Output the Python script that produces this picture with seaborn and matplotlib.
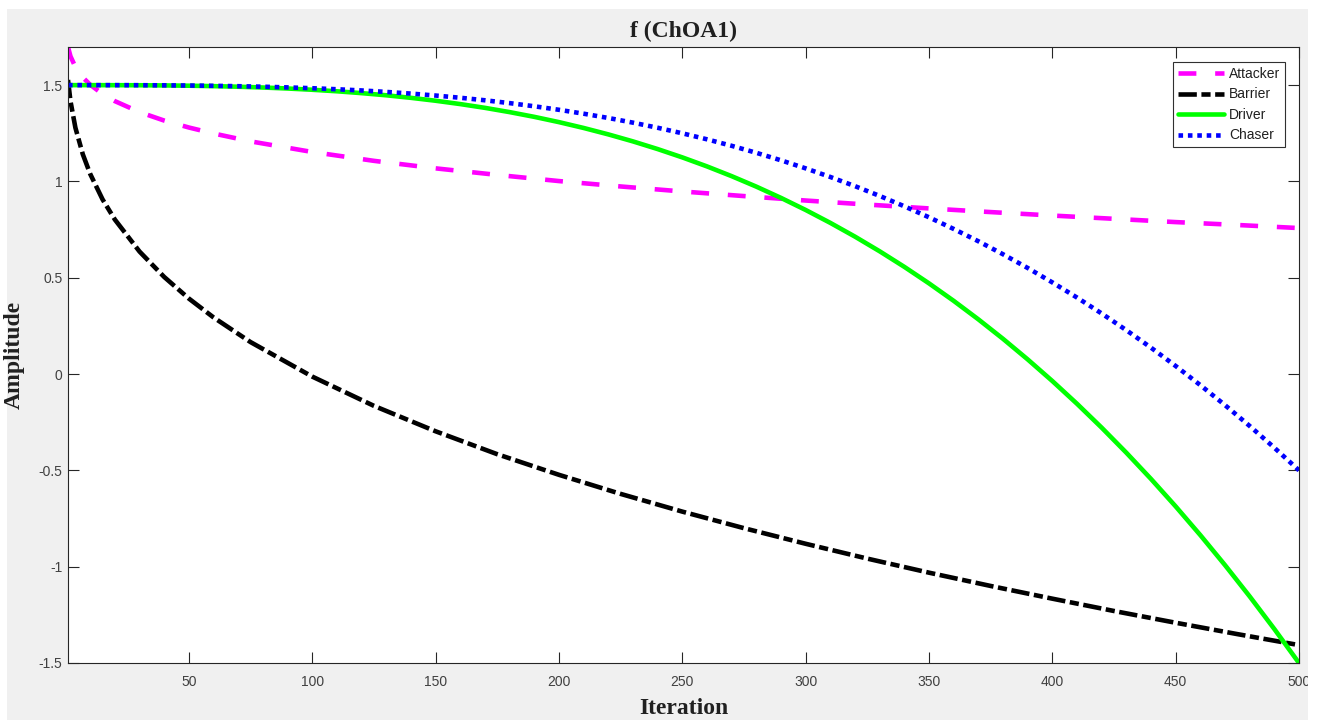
import matplotlib
matplotlib.use("Agg")
import matplotlib.pyplot as plt
import seaborn as sns
import pandas as pd
from matplotlib.patches import Rectangle

# ---------------- data ----------------
iter_ab = [1, 2, 4, 7, 10, 15, 20, 30, 40, 50, 60, 75, 100, 125, 150, 175,
           200, 225, 250, 275, 300, 325, 350, 375, 400, 425, 450, 475, 500]
attacker = [1.698, 1.650, 1.594, 1.540, 1.502, 1.454, 1.417, 1.360, 1.316, 1.280,
            1.249, 1.208, 1.153, 1.107, 1.068, 1.034, 1.002, 0.974, 0.948, 0.924,
            0.901, 0.880, 0.860, 0.841, 0.823, 0.806, 0.789, 0.774, 0.758]
barrier = [1.527, 1.417, 1.279, 1.141, 1.039, 0.907, 0.802, 0.636, 0.504, 0.392,
           0.294, 0.166, -0.013, -0.165, -0.297, -0.416, -0.523, -0.622, -0.714,
           -0.800, -0.881, -0.958, -1.031, -1.100, -1.166, -1.230, -1.291, -1.350,
           -1.407]
iter_dc = [1, 10, 20, 30, 40, 50, 60, 70, 80, 90, 100, 110, 120, 130, 140, 150,
           160, 170, 180, 190, 200, 210, 220, 230, 240, 250, 260, 270, 280, 290,
           300, 310, 320, 330, 340, 350, 360, 370, 380, 390, 400, 410, 420, 430,
           440, 450, 460, 470, 480, 490, 500]
driver = [1.5, 1.5, 1.4998, 1.4994, 1.4985, 1.4970, 1.4948, 1.4918, 1.4877, 1.4825,
          1.476, 1.4681, 1.4585, 1.4473, 1.4341, 1.419, 1.4017, 1.3821, 1.3600,
          1.3354, 1.308, 1.2777, 1.2444, 1.2080, 1.1682, 1.125, 1.0782, 1.0276,
          0.9732, 0.9147, 0.852, 0.7850, 0.7136, 0.6375, 0.5567, 0.471, 0.3803,
          0.2843, 0.1831, 0.0763, -0.036, -0.1541, -0.2781, -0.4082, -0.5444,
          -0.687, -0.8361, -0.9918, -1.1542, -1.3236, -1.5]
chaser = [1.5, 1.5, 1.4999, 1.4996, 1.4990, 1.4980, 1.4965, 1.4945, 1.4918, 1.4883,
          1.484, 1.4787, 1.4724, 1.4648, 1.4561, 1.446, 1.4345, 1.4214, 1.4067,
          1.3903, 1.372, 1.3518, 1.3296, 1.3053, 1.2788, 1.25, 1.2188, 1.1851,
          1.1488, 1.1098, 1.068, 1.0233, 0.9757, 0.9250, 0.8711, 0.814, 0.7535,
          0.6896, 0.6221, 0.5509, 0.476, 0.3973, 0.3146, 0.2279, 0.1371, 0.042,
          -0.0574, -0.1612, -0.2695, -0.3824, -0.5]
series_names = ["Attacker", "Barrier", "Driver", "Chaser"]
xticks = [50, 100, 150, 200, 250, 300, 350, 400, 450, 500]
yticks = [-1.5, -1, -0.5, 0, 0.5, 1, 1.5]
ytick_labels = ["-1.5", "-1", "-0.5", "0", "0.5", "1", "1.5"]
title = "f (ChOA1)"
xlabel = "Iteration"
ylabel = "Amplitude"

# ---------------- styling ----------------
sns.set_theme(style="white")
plt.rcParams["font.family"] = ["Liberation Sans", "DejaVu Sans"]

W, H = 1317, 720
fig = plt.figure(figsize=(W / 100, H / 100), dpi=100)
fig.patch.set_facecolor("white")
# grey MATLAB-like figure background (screenshot region)
fig.patches.append(Rectangle((7 / W, 0), (1308 - 7) / W, (H - 9) / H,
                             transform=fig.transFigure, facecolor="#f0f0f0",
                             edgecolor="none", zorder=-5))

ax = fig.add_axes([68 / W, (H - 663) / H, (1299 - 68) / W, (663 - 47) / H])
ax.set_facecolor("white")

colors = ["#ff00ff", "#000000", "#00ff00", "#0000ff"]
lw = 3.3
styles = [(0, (3.9, 4.1)), (0, (4.0, 1.0, 2.0, 1.0)), "-", (0, (1.0, 1.05))]
xs = [iter_ab, iter_ab, iter_dc, iter_dc]
values = [attacker, barrier, driver, chaser]

for name, x, vals, col, ls in zip(series_names, xs, values, colors, styles):
    df = pd.DataFrame({"Iteration": x, "Amplitude": vals})
    sns.lineplot(data=df, x="Iteration", y="Amplitude", ax=ax, color=col,
                 linewidth=lw, label=name, errorbar=None)
    line = ax.lines[-1]
    line.set_linestyle(ls)
    line.set_dash_capstyle("butt")

ax.set_xlim(1, 500)
ax.set_ylim(-1.5, 1.698)
ax.set_xticks(xticks)
ax.set_xticklabels([str(v) for v in xticks])
ax.set_yticks(yticks)
ax.set_yticklabels(ytick_labels)

spine_col = "#262626"
for s in ax.spines.values():
    s.set_visible(True)
    s.set_color(spine_col)
    s.set_linewidth(0.8)

ax.tick_params(axis="both", which="major", direction="in", length=8, width=0.8,
               color=spine_col, labelcolor="#404040", labelsize=10,
               top=True, right=True, bottom=True, left=True)
ax.tick_params(axis="x", pad=9)
ax.tick_params(axis="y", pad=4)

serif = ["Liberation Serif", "DejaVu Serif"]
ax.set_title(title, family=serif, fontweight="bold", fontsize=17, color="#202020", pad=7)
ax.set_xlabel(xlabel, family=serif, fontweight="bold", fontsize=17, color="#202020")
ax.set_ylabel(ylabel, family=serif, fontweight="bold", fontsize=17, color="#202020")
ax.xaxis.set_label_coords(0.5, (663 - 698) / 616)
ax.yaxis.set_label_coords((25 - 68) / 1231, 0.5)

leg = ax.legend(loc="upper right", bbox_to_anchor=(1 - 14 / 1231, 1 - 15 / 616),
                borderaxespad=0, frameon=True, fancybox=False, shadow=False,
                fontsize=10, handlelength=3.3, handletextpad=0.35,
                borderpad=0.35, labelspacing=0.47)
leg.get_frame().set_edgecolor("#303030")
leg.get_frame().set_linewidth(0.8)
leg.get_frame().set_facecolor("white")
leg.get_frame().set_alpha(1)
for t in leg.get_texts():
    t.set_color("#202020")

# white strip at the right edge of the screenshot (cuts the "500" label)
fig.patches.append(Rectangle((1308 / W, 0), (W - 1308) / W, 1,
                             transform=fig.transFigure, facecolor="white",
                             edgecolor="none", zorder=10))

fig.savefig("out.png", dpi=100)
